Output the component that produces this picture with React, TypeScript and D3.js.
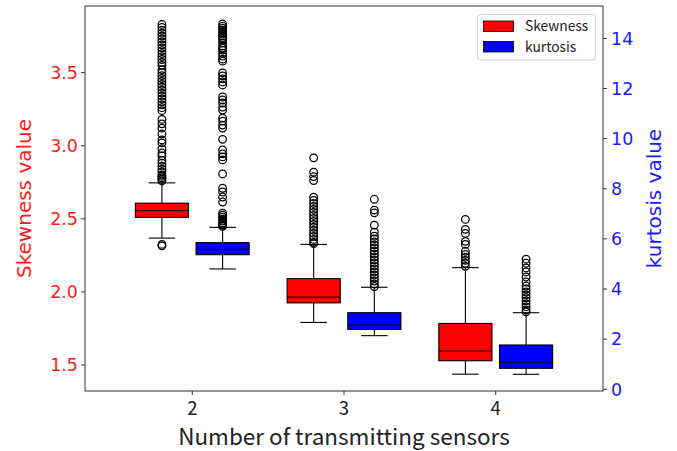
import React from "react";
import * as d3 from "d3";

// Number of transmitting sensors (x categories)
const sensors = [2, 3, 4];

// Skewness box statistics per sensor count
const skewLow = [2.368, 1.791, 1.437];
const skewQ1 = [2.51, 1.925, 1.529];
const skewMedian = [2.555, 1.964, 1.596];
const skewQ3 = [2.607, 2.091, 1.784];
const skewHigh = [2.746, 2.325, 2.166];

// Kurtosis box statistics per sensor count
const kurtLow = [4.8, 2.14, 0.598];
const kurtQ1 = [5.37, 2.39, 0.838];
const kurtMedian = [5.58, 2.565, 1.077];
const kurtQ3 = [5.85, 3.055, 1.767];
const kurtHigh = [6.46, 4.07, 3.055];

// Skewness outliers
const skewOut2 = [
  3.83, 3.81, 3.79, 3.77, 3.75, 3.73, 3.71, 3.69, 3.67, 3.65, 3.63, 3.61, 3.59, 3.57,
  3.55, 3.52, 3.5, 3.48, 3.46, 3.44, 3.42, 3.4, 3.38, 3.36, 3.34, 3.32, 3.3, 3.28,
  3.26, 3.24, 3.18, 3.15, 3.12, 3.08, 3.04, 3.02, 2.98, 2.95, 2.93, 2.9, 2.88, 2.86,
  2.84, 2.82, 2.8, 2.79, 2.78, 2.77, 2.76, 2.325, 2.315,
];
const skewOut3 = [
  2.917, 2.819, 2.789, 2.762, 2.648, 2.626, 2.605, 2.585, 2.564, 2.544, 2.523, 2.503,
  2.482, 2.462, 2.442, 2.421, 2.4, 2.38, 2.359, 2.339, 2.33,
];
const skewOut4 = [2.496, 2.428, 2.4, 2.346, 2.325, 2.278, 2.257, 2.237, 2.216, 2.196, 2.175];

// Kurtosis outliers
const kurtOut2 = [
  14.57, 14.49, 14.41, 14.33, 14.25, 14.17, 14.09, 14.01, 13.93, 13.81, 13.69, 13.61,
  13.53, 13.41, 13.29, 13.17, 13.09, 12.62, 12.5, 12.38, 12.26, 12.14, 11.66, 11.54,
  11.42, 11.26, 11.14, 10.82, 10.7, 10.54, 10.42, 9.97, 9.55, 9.39, 9.27, 9.15, 8.59,
  8.02, 7.87, 7.67, 7.47, 7.03, 6.95, 6.87, 6.79, 6.71, 6.63, 6.55, 6.5,
];
const kurtOut3 = [
  7.58, 7.15, 7.04, 6.55, 6.27, 6.11, 6.0, 5.88, 5.76, 5.64, 5.52, 5.4, 5.28, 5.16,
  5.04, 4.92, 4.8, 4.68, 4.56, 4.44, 4.32, 4.2, 4.1,
];
const kurtOut4 = [
  5.19, 5.03, 4.84, 4.68, 4.48, 4.28, 4.12, 4.0, 3.88, 3.76, 3.65, 3.53, 3.41, 3.29,
  3.17, 3.09,
];

// Axis tick values
const skewTicks = [1.5, 2.0, 2.5, 3.0, 3.5];
const kurtTicks = [0, 2, 4, 6, 8, 10, 12, 14];

const W = 677;
const H = 451;
const M = { left: 85, right: 603, top: 6, bottom: 391 };
const BOX_W = 0.35;
const OFFSET = 0.2;
const JP = "'Noto Sans CJK JP', 'Noto Sans', sans-serif";
const DV = "'DejaVu Sans', sans-serif";

type Stat = { low: number; q1: number; med: number; q3: number; high: number; out: number[] };

export default function App() {
  const x = d3.scaleLinear().domain([1.293, 4.707]).range([M.left, M.right]);
  const ySkew = d3.scaleLinear().domain([1.322, 3.956]).range([M.bottom, M.top]);
  const yKurt = d3.scaleLinear().domain([-0.068, 15.29]).range([M.bottom, M.top]);

  const skewOuts = [skewOut2, skewOut3, skewOut4];
  const kurtOuts = [kurtOut2, kurtOut3, kurtOut4];

  const skewStats: Stat[] = sensors.map((_, i) => ({
    low: skewLow[i], q1: skewQ1[i], med: skewMedian[i], q3: skewQ3[i], high: skewHigh[i], out: skewOuts[i],
  }));
  const kurtStats: Stat[] = sensors.map((_, i) => ({
    low: kurtLow[i], q1: kurtQ1[i], med: kurtMedian[i], q3: kurtQ3[i], high: kurtHigh[i], out: kurtOuts[i],
  }));

  const drawBox = (s: Stat, pos: number, y: d3.ScaleLinear<number, number>, fill: string, key: string) => {
    const x0 = x(pos - BOX_W / 2);
    const x1 = x(pos + BOX_W / 2);
    const xc = x(pos);
    const c0 = x(pos - BOX_W / 4);
    const c1 = x(pos + BOX_W / 4);
    return (
      <g key={key}>
        <line x1={xc} x2={xc} y1={y(s.q3)} y2={y(s.high)} stroke="#000" strokeWidth={1.1} />
        <line x1={xc} x2={xc} y1={y(s.q1)} y2={y(s.low)} stroke="#000" strokeWidth={1.1} />
        <line x1={c0} x2={c1} y1={y(s.high)} y2={y(s.high)} stroke="#000" strokeWidth={1.1} />
        <line x1={c0} x2={c1} y1={y(s.low)} y2={y(s.low)} stroke="#000" strokeWidth={1.1} />
        <rect x={x0} y={y(s.q3)} width={x1 - x0} height={y(s.q1) - y(s.q3)} fill={fill} stroke="#000" strokeWidth={1.1} />
        <line x1={x0} x2={x1} y1={y(s.med)} y2={y(s.med)} stroke="#000" strokeWidth={1.1} />
        {s.out.map((v, j) => (
          <circle key={j} cx={xc} cy={y(v)} r={3.8} fill="none" stroke="#000" strokeWidth={1.25} />
        ))}
      </g>
    );
  };

  return (
    <svg width={W} height={H} style={{ position: "absolute", left: 0, top: 0, background: "#fff" }}>
      <rect x={0} y={0} width={W} height={H} fill="#fff" />
      {sensors.map((s, i) => drawBox(skewStats[i], s - OFFSET, ySkew, "#ff0000", `s${i}`))}
      {sensors.map((s, i) => drawBox(kurtStats[i], s + OFFSET, yKurt, "#0000ff", `k${i}`))}

      {/* frame */}
      <rect x={M.left} y={M.top} width={M.right - M.left} height={M.bottom - M.top} fill="none" stroke="#333" strokeWidth={1} />

      {/* left axis */}
      {skewTicks.map((t) => (
        <g key={`ls${t}`}>
          <line x1={M.left - 4} x2={M.left} y1={ySkew(t)} y2={ySkew(t)} stroke="#333" />
          <text x={M.left - 7} y={ySkew(t)} dy="0.36em" textAnchor="end" fontFamily={DV} fontSize={17.5} fill="#ff1a1a">
            {t.toFixed(1)}
          </text>
        </g>
      ))}
      <text transform={`translate(31,${(M.top + M.bottom) / 2}) rotate(-90)`} textAnchor="middle" fontFamily={DV} fontSize={20} fill="#ff1a1a">
        Skewness value
      </text>

      {/* right axis */}
      {kurtTicks.map((t) => (
        <g key={`rk${t}`}>
          <line x1={M.right} x2={M.right + 4} y1={yKurt(t)} y2={yKurt(t)} stroke="#333" />
          <text x={M.right + 8} y={yKurt(t)} dy="0.36em" textAnchor="start" fontFamily={DV} fontSize={17.5} fill="#1a1aff">
            {t}
          </text>
        </g>
      ))}
      <text transform={`translate(661,${(M.top + M.bottom) / 2}) rotate(-90)`} textAnchor="middle" fontFamily={DV} fontSize={20} fill="#1a1aff">
        kurtosis value
      </text>

      {/* bottom axis */}
      {sensors.map((s) => (
        <g key={`x${s}`}>
          <line x1={x(s)} x2={x(s)} y1={M.bottom} y2={M.bottom + 4} stroke="#333" />
          <text x={x(s)} y={414.5} textAnchor="middle" fontFamily={JP} fontSize={18.5} fill="#222">
            {s}
          </text>
        </g>
      ))}
      <text x={(M.left + M.right) / 2} y={445} textAnchor="middle" fontFamily={JP} fontSize={22.5} fill="#222">
        Number of transmitting sensors
      </text>

      {/* legend */}
      <g>
        <rect x={477.5} y={14.5} width={118} height={45.5} rx={3} fill="#fff" fillOpacity={0.85} stroke="#d0d0d0" />
        <rect x={483.5} y={21} width={30} height={10.5} fill="#ff0000" stroke="#000" strokeWidth={0.8} />
        <rect x={483.5} y={41.5} width={30} height={10.5} fill="#0000ff" stroke="#000" strokeWidth={0.8} />
        <text x={525} y={31} fontFamily={JP} fontSize={13.8} fill="#222">Skewness</text>
        <text x={525} y={51.5} fontFamily={JP} fontSize={13.8} fill="#222">kurtosis</text>
      </g>
    </svg>
  );
}
